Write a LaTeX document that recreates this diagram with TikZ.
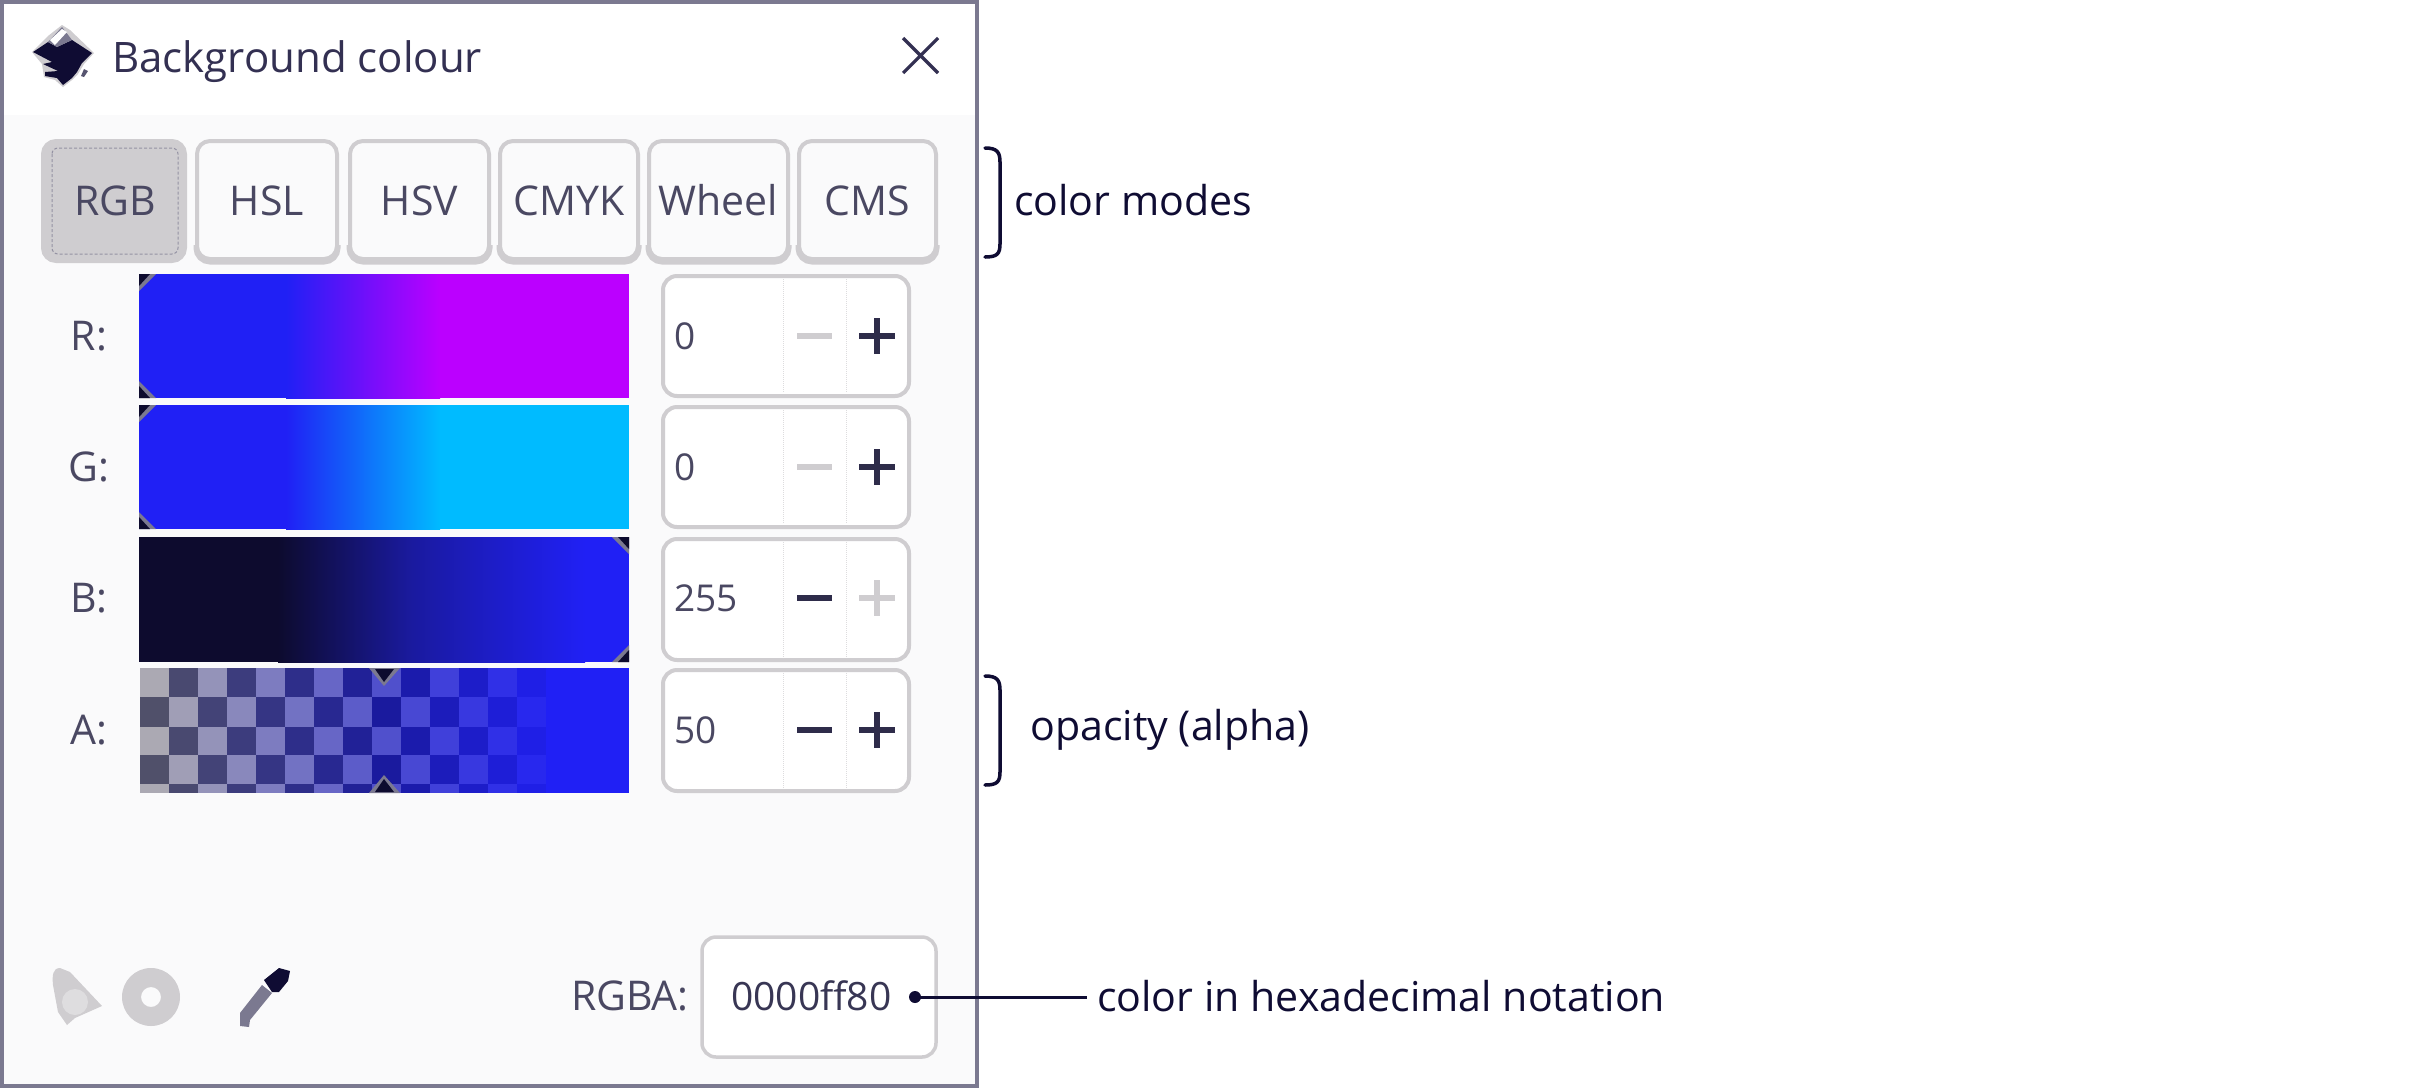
\documentclass[tikz,border=0pt]{standalone}
\usepackage{fontspec}
\setmainfont{Open Sans}
\definecolor{ink}{HTML}{0F0C33}
\definecolor{uitext}{HTML}{4A4862}
\definecolor{frame}{HTML}{7B7990}
\definecolor{edge}{HTML}{CFCDD0}
\definecolor{panel}{HTML}{FAFAFB}
\definecolor{bblue}{HTML}{2020F5}
\definecolor{bmag}{HTML}{BB00FF}
\definecolor{bcyan}{HTML}{00BBFF}
\definecolor{bdark}{HTML}{0D0B2E}
\definecolor{bmid}{HTML}{1A1A9E}
\definecolor{cklight}{HTML}{ABA9B3}
\definecolor{ckdark}{HTML}{50506A}
\definecolor{cklightmid}{HTML}{5050CC}
\definecolor{activeink}{HTML}{2E2C4A}
\tikzset{
  x=1pt,y=-1pt,
  uilabel/.style={inner sep=0pt,anchor=base,text=uitext,font=\fontsize{41}{41}\selectfont},
  vallabel/.style={inner sep=0pt,anchor=base west,text=uitext,font=\fontsize{37}{37}\selectfont},
  note/.style={inner sep=0pt,anchor=base west,text=ink,font=\fontsize{41.1}{41.1}\selectfont},
  modebtn/.style={draw=edge,line width=4pt,rounded corners=13pt,fill=panel},
  spinbox/.style={draw=edge,line width=4pt,rounded corners=14pt,fill=white},
  divider/.style={draw=edge!70,line width=1pt,densely dotted},
  bracketline/.style={draw=ink,line width=3.5pt,line cap=round},
  active/.style={draw=activeink,line width=5.5pt},
  inactive/.style={draw=edge,line width=5.5pt},
  handlebg/.style={fill=frame},
  handlefg/.style={fill=bdark},
}
\newcommand{\spinrow}[6]{% top, bottom, base, value, minus style, plus style
  \draw[spinbox] (663,#1) rectangle (909,#2);
  \draw[divider] (783,#1+3) -- (783,#2-3);
  \draw[divider] (846,#1+3) -- (846,#2-3);
  \node[vallabel] (val#3) at (674,#3-2) {#4};
  \draw[#5] (797,#3-15) -- (832,#3-15);
  \draw[#6] (859,#3-15) -- (895,#3-15);
  \draw[#6] (877,#3-33) -- (877,#3+3);
}
\begin{document}
\begin{tikzpicture}
\useasboundingbox (0,0) rectangle (2410,1088);
\fill[white] (0,0) rectangle (2410,1088);
% window
\fill[panel] (2,115) rectangle (978,1086);
\draw[frame,line width=4pt] (2,2) rectangle (977,1086);
% title bar: logo
\fill[edge] (62,25) -- (70,30) -- (94,53) -- (84,64) -- (78,74) -- (72,80) -- (63,87) -- (55,80) -- (44,77) -- (42,64) -- (32,52) -- (48,36) -- cycle;
\fill[ink] (33,52) -- (48,42) -- (57,47) -- (72,40) -- (92,53) -- (82,63) -- (77,72) -- (72,78) -- (63,85) -- (57,78) -- (45,76) -- (45,72) -- (58,71) -- (43,64) -- (52,62) -- cycle;
\fill[frame] (48,42) -- (62,27) -- (72,40) -- (57,47) -- cycle;
\fill[white] (50,40) -- (62,29) -- (67,32) -- (55,45) -- cycle;
\fill[ink!70!white] (84,69) -- (88,71) -- (84,77) -- (81,76) -- cycle;
\node[uilabel,anchor=base west,text=ink!85!white,font=\fontsize{42}{42}\selectfont] (title) at (112,72) {Background colour};
\draw[ink!85!white,line width=3.2pt] (903,38) -- (938,73) (938,38) -- (903,73);
% mode buttons
\draw[modebtn,fill=edge] (43,141) rectangle (185,261);
\draw[frame!70!edge,line width=1pt,densely dashed,rounded corners=6pt] (52,148) rectangle (178,254);
\foreach \xa/\xb/\lbl in {197/337/HSL,350/489/HSV,500/638/CMYK,649/788/Wheel,799/936/CMS}{
  \draw[edge,line width=7pt,rounded corners=13pt] (\xa,245) -- (\xa,261) -- (\xb,261) -- (\xb,245);
  \draw[modebtn] (\xa,141) rectangle (\xb,259);
  \node[uilabel] (btn\lbl) at ({(\xa+\xb)/2},215) {\lbl};
}
\node[uilabel] (btnRGB) at (115,215) {RGB};
% colour bars
\fill[bblue] (139,274) rectangle (287,398);
\fill[bmag] (439,274) rectangle (629,398);
\shade[left color=bblue,right color=bmag] (286,274) rectangle (440,398);
\fill[bblue] (139,405) rectangle (287,529);
\fill[bcyan] (439,405) rectangle (629,529);
\shade[left color=bblue,right color=bcyan] (286,405) rectangle (440,529);
\fill[bdark] (139,537) rectangle (279,662);
\fill[bblue] (584,537) rectangle (629,662);
\shade[left color=bmid,right color=bblue] (410,537) rectangle (585,662);
\shade[left color=bdark,right color=bmid] (278,537) rectangle (411,662);
% alpha checkers
\fill[bblue] (140,668) rectangle (629,793);
\foreach \c in {0,...,14}{
  \pgfmathtruncatemacro{\mixa}{min(100,\c*12.5)}
  \pgfmathtruncatemacro{\mixb}{max(0,(\c-8)*16.7)}
  \pgfmathsetmacro{\cx}{140+29*\c}
  \foreach \r/\ya/\yb in {0/668/697,1/697/727,2/727/755,3/755/784,4/784/793}{
    \pgfmathtruncatemacro{\parity}{mod(\c+\r,2)}
    \ifnum\parity=0\relax
      \colorlet{cellcol}{cklightmid!\mixa!cklight}
    \else
      \colorlet{cellcol}{bmid!\mixa!ckdark}
    \fi
    \fill[bblue!\mixb!cellcol] (\cx,\ya) rectangle (\cx+29.2,\yb);
  }
}
% slider handles
\foreach \yc/\yd in {274/1,398/-1,405/1,529/-1}{
  \fill[handlebg] (139,\yc) -- (156,\yc) -- (139,\yc+\yd*17) -- cycle;
  \fill[handlefg] (139,\yc) -- (150,\yc) -- (139,\yc+\yd*12) -- cycle;
}
\foreach \yc/\yd in {537/1,662/-1}{
  \fill[handlebg] (629,\yc) -- (612,\yc) -- (629,\yc+\yd*17) -- cycle;
  \fill[handlefg] (629,\yc) -- (618,\yc) -- (629,\yc+\yd*12) -- cycle;
}
\fill[handlebg] (369,668) -- (400,668) -- (384,686) -- cycle;
\fill[handlefg] (375,669) -- (394,669) -- (384,682) -- cycle;
\fill[handlebg] (369,793) -- (400,793) -- (384,775) -- cycle;
\fill[handlefg] (375,792) -- (394,792) -- (384,779) -- cycle;
% channel labels
\node[uilabel] (labR) at (89,350) {R:};
\node[uilabel] (labG) at (89,481) {G:};
\node[uilabel] (labB) at (89,612) {B:};
\node[uilabel] (labA) at (89,744) {A:};
% spin boxes
\spinrow{276}{396}{351}{0}{inactive}{active}
\spinrow{407}{527}{482}{0}{inactive}{active}
\spinrow{539}{660}{613}{255}{active}{inactive}
\spinrow{670}{791}{745}{50}{active}{active}
% bottom icons
\fill[edge] (60,968) .. controls (53,968) and (52,975) .. (53,985) -- (58,1012) -- (67,1025) -- (75,1018) -- (102,1006) -- (70,972) -- cycle;
\fill[panel!35!edge] (75,1002) circle (13);
\fill[edge,even odd rule] (151,997) circle (29) (151,997) circle (10);
\fill[frame] (262,985) -- (272,993) -- (250,1020) -- (249,1027) -- (240,1026) -- (240,1013) -- cycle;
\fill[ink] (264,980) -- (279,968) -- (290,971) -- (288,981) -- (279,992) -- (272,992) -- cycle;
% hex entry
\node[uilabel,anchor=base east] (rgba) at (689,1010) {RGBA:};
\draw[spinbox,line width=3.5pt] (702,937) rectangle (936,1057);
\node[vallabel,text=uitext!70!ink,font=\fontsize{39}{39}\selectfont] (hex) at (731,1010) {0000ff80};
% annotations
\node[note] (notemodes) at (1014,215) {color modes};
\node[note] (notealpha) at (1030,740) {opacity (alpha)};
\node[note] (notehex) at (1097,1011) {color in hexadecimal notation};
\draw[bracketline] (985,148) .. controls (997,148) and (1000,152) .. (1000,162) -- (1000,244) .. controls (1000,254) and (997,257) .. (985,257);
\draw[bracketline] (985,676) .. controls (997,676) and (1000,680) .. (1000,690) -- (1000,772) .. controls (1000,782) and (997,785) .. (985,785);
\node[circle,fill=ink,inner sep=0pt,minimum size=12pt] (hexdot) at (915,997) {};
\coordinate (hexend) at (1087,997);
\draw[ink,line width=3pt] (hexdot.center) -- (hexend);
\end{tikzpicture}
\end{document}
